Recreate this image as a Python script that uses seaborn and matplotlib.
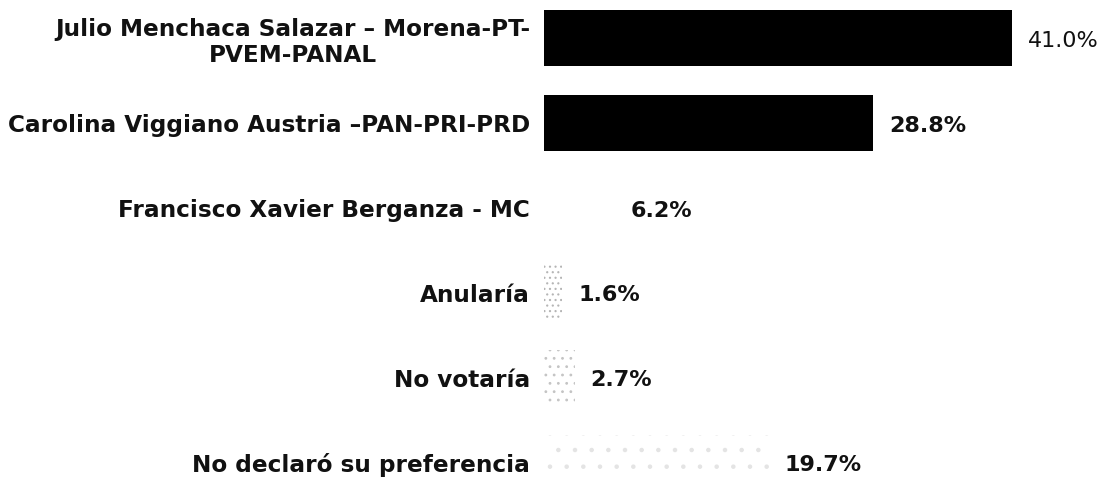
import numpy as np
import pandas as pd
import matplotlib
matplotlib.use("Agg")
import matplotlib.pyplot as plt
import seaborn as sns

# Chart data
candidates = [
    "Julio Menchaca Salazar – Morena-PT-\nPVEM-PANAL",
    "Carolina Viggiano Austria –PAN-PRI-PRD",
    "Francisco Xavier Berganza - MC",
    "Anularía",
    "No votaría",
    "No declaró su preferencia",
]
shares = [41.0, 28.8, 6.2, 1.6, 2.7, 19.7]
bar_colors = ["#000000", "#000000", "#ffffff", "#ffffff", "#ffffff", "#ffffff"]
bar_hatches = [None, None, None, "...", "..", "."]
hatch_colors = ["#000000", "#000000", "#ffffff", "#b5b5b5", "#c4c4c4", "#e4e4e4"]

data = pd.DataFrame({"candidate": candidates, "share": shares})

sns.set_style("white")
plt.rcParams["font.family"] = ["DejaVu Sans"]
plt.rcParams["hatch.linewidth"] = 0.8

fig = plt.figure(figsize=(11.1, 4.78), dpi=100)
ax = fig.add_axes([0.49, 0.0, 0.50, 1.0])

sns.barplot(data=data, x="share", y="candidate", hue="candidate",
            palette=bar_colors, legend=False, orient="h", width=0.66,
            saturation=1, ax=ax)

# Dotted (scanned) look for the light bars
for cont, h, hc in zip(ax.containers, bar_hatches, hatch_colors):
    for p in cont:
        p.set_linewidth(0)
        if h:
            p.set_hatch(h)
            p.set_edgecolor(hc)

# Value labels at the end of each bar
for i, v in enumerate(shares):
    ax.text(v + 1.4, i + 0.03, f"{v:.1f}%", va="center", ha="left",
            fontsize=16, fontweight="normal" if i == 0 else "bold",
            color="#111111")

ax.set_xlim(0, 48.6)
ax.set_ylim(5.18, -0.45)
ax.set_xlabel("")
ax.set_ylabel("")
ax.set_xticks([])
ax.tick_params(axis="y", length=0, pad=10)
for lbl in ax.get_yticklabels():
    lbl.set_fontsize(16.7)
    lbl.set_fontweight("bold")
    lbl.set_color("#111111")
    lbl.set_multialignment("center")
sns.despine(ax=ax, left=True, bottom=True)

fig.savefig("out.png", dpi=100)
